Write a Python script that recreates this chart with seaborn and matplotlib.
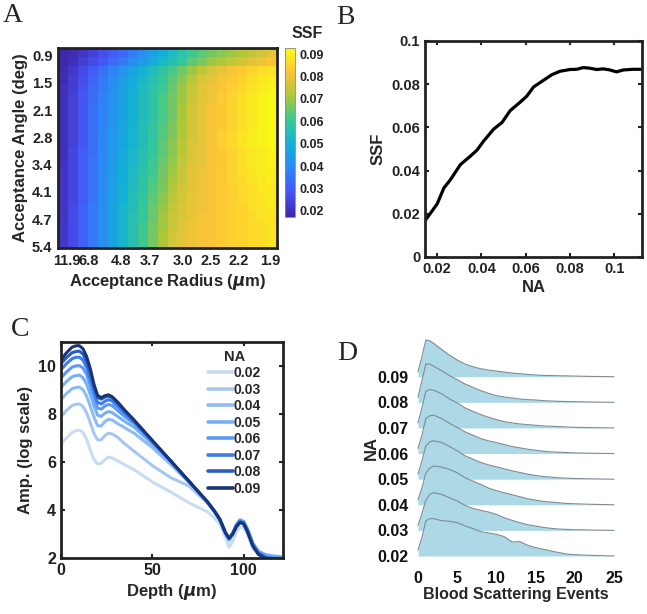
import numpy as np
import pandas as pd
import matplotlib
matplotlib.use("Agg")
import matplotlib.pyplot as plt
from matplotlib.colors import LinearSegmentedColormap
import seaborn as sns

# ---------------- data ----------------
# A: SSF map, rows = acceptance angle (top -> bottom), cols = acceptance radius (left -> right), x1000
ssf_grid_x1000 = [
    [17, 19, 21, 24, 27, 30, 33, 37, 41, 45, 49, 53, 57, 61, 64, 66, 68, 70, 72, 74, 76, 79],
    [18, 20, 23, 26, 29, 33, 36, 40, 44, 48, 52, 56, 60, 64, 67, 70, 72, 74, 76, 78, 80, 82],
    [19, 22, 26, 30, 34, 38, 42, 46, 50, 54, 58, 62, 66, 70, 74, 77, 79, 81, 83, 85, 87, 88],
    [19, 23, 27, 32, 36, 40, 44, 48, 52, 56, 60, 64, 68, 73, 77, 79, 81, 83, 85, 87, 89, 90],
    [20, 23, 28, 33, 37, 41, 45, 49, 53, 57, 61, 65, 70, 75, 78, 80, 82, 84, 86, 88, 90, 91],
    [20, 24, 29, 33, 38, 42, 46, 50, 54, 58, 62, 66, 70, 75, 78, 80, 83, 85, 87, 89, 91, 92],
    [20, 24, 29, 34, 38, 42, 46, 50, 54, 58, 62, 66, 71, 76, 79, 81, 83, 85, 87, 89, 91, 92],
    [20, 24, 29, 34, 38, 42, 46, 50, 54, 58, 62, 66, 71, 76, 79, 81, 83, 85, 87, 89, 91, 92],
    [20, 24, 29, 34, 38, 43, 47, 51, 55, 59, 63, 67, 72, 76, 79, 81, 83, 85, 87, 89, 91, 92],
    [20, 24, 29, 34, 39, 43, 47, 51, 55, 59, 63, 67, 72, 76, 79, 81, 84, 86, 88, 90, 91, 92],
    [20, 24, 29, 34, 39, 43, 47, 51, 55, 60, 64, 68, 73, 77, 79, 81, 84, 86, 88, 90, 91, 92],
    [20, 25, 30, 34, 39, 43, 48, 52, 56, 60, 64, 68, 73, 77, 79, 81, 83, 85, 87, 89, 90, 91],
    [20, 25, 30, 35, 39, 44, 48, 52, 56, 61, 65, 69, 74, 77, 79, 81, 83, 85, 87, 89, 90, 91],
    [21, 25, 30, 35, 40, 44, 49, 53, 57, 61, 66, 70, 75, 78, 80, 82, 83, 85, 87, 88, 90, 90],
    [21, 25, 30, 35, 40, 45, 49, 53, 58, 62, 66, 71, 75, 78, 80, 82, 83, 85, 86, 88, 89, 90],
    [21, 25, 30, 35, 40, 45, 50, 54, 58, 63, 67, 72, 76, 78, 80, 82, 83, 84, 86, 87, 89, 89],
    [21, 25, 30, 35, 40, 45, 50, 55, 59, 64, 68, 73, 76, 79, 80, 82, 83, 84, 86, 87, 88, 89],
    [21, 26, 31, 36, 41, 46, 51, 55, 60, 65, 69, 74, 77, 79, 80, 82, 83, 84, 85, 87, 88, 89],
    [21, 26, 31, 36, 41, 46, 51, 56, 60, 65, 70, 75, 77, 79, 81, 82, 83, 84, 85, 86, 88, 88],
    [22, 26, 31, 36, 41, 46, 51, 56, 61, 66, 70, 75, 78, 80, 81, 82, 83, 84, 85, 86, 87, 88],
    [22, 26, 31, 36, 41, 46, 51, 56, 61, 66, 71, 76, 78, 80, 81, 82, 83, 84, 85, 86, 87, 88],
    [22, 26, 31, 36, 41, 46, 51, 56, 61, 66, 71, 76, 78, 80, 81, 82, 83, 84, 85, 86, 87, 88],
]
radius_labels = ["11.9", "6.8", "4.8", "3.7", "3.0", "2.5", "2.2", "1.9"]
angle_labels = ["0.9", "1.5", "2.1", "2.8", "3.4", "4.1", "4.7", "5.4"]

# B: SSF vs NA
na_curve = [0.0147, 0.017, 0.02, 0.023, 0.026, 0.0305, 0.035, 0.038, 0.041, 0.0455, 0.0493,
            0.053, 0.0575, 0.0605, 0.0635, 0.068, 0.0718, 0.0755, 0.08, 0.083, 0.086, 0.089,
            0.092, 0.095, 0.098, 0.101, 0.104, 0.1086, 0.1123]
ssf_curve = [0.0171, 0.0203, 0.0246, 0.0319, 0.0358, 0.0428, 0.0467, 0.0495, 0.0537, 0.0592,
             0.0623, 0.0678, 0.0717, 0.0745, 0.0787, 0.0818, 0.0844, 0.086, 0.0868, 0.0869,
             0.0877, 0.0874, 0.0868, 0.0871, 0.0866, 0.0857, 0.0866, 0.0869, 0.0869]

# C: amplitude vs depth for each NA
na_labels = ["0.02", "0.03", "0.04", "0.05", "0.06", "0.07", "0.08", "0.09"]
depth = [0, 3, 6, 8, 10, 12, 14, 16, 18, 20, 22, 24, 26, 28, 31, 35, 40, 50, 60, 70,
         80, 84, 87, 90, 92, 94, 96, 98, 100, 102, 105, 108, 112, 116, 121]
amp_002 = [6.76, 7.00, 7.22, 7.30, 7.33, 7.24, 6.95, 6.50, 6.10, 5.92, 5.95, 6.10, 6.20, 6.17, 6.05, 5.88, 5.68, 5.17, 4.75, 4.30,
           3.93, 3.66, 3.40, 2.85, 2.45, 2.70, 3.10, 3.30, 3.25, 3.00, 2.36, 2.22, 2.15, 2.10, 2.06]
amp_003 = [7.90, 8.15, 8.35, 8.40, 8.42, 8.32, 8.05, 7.65, 7.20, 6.92, 6.92, 7.10, 7.20, 7.17, 7.03, 6.75, 6.45, 5.85, 5.35, 5.00,
           4.30, 3.90, 3.55, 3.00, 2.72, 2.98, 3.30, 3.48, 3.40, 3.10, 2.50, 2.24, 2.12, 2.08, 2.05]
amp_004 = [8.60, 8.85, 9.05, 9.10, 9.12, 9.02, 8.75, 8.33, 7.88, 7.52, 7.50, 7.68, 7.78, 7.75, 7.60, 7.42, 7.20, 6.60, 5.90, 5.15,
           4.35, 3.95, 3.60, 3.05, 2.78, 3.03, 3.38, 3.58, 3.50, 3.20, 2.60, 2.28, 2.14, 2.08, 2.05]
amp_005 = [9.10, 9.35, 9.55, 9.60, 9.62, 9.52, 9.25, 8.82, 8.35, 7.95, 7.90, 8.03, 8.10, 8.06, 7.90, 7.68, 7.45, 6.75, 6.00, 5.20,
           4.35, 3.95, 3.60, 3.05, 2.80, 3.05, 3.40, 3.60, 3.52, 3.22, 2.62, 2.28, 2.12, 2.06, 2.03]
amp_006 = [9.50, 9.75, 9.95, 10.00, 10.02, 9.92, 9.65, 9.20, 8.70, 8.25, 8.20, 8.33, 8.40, 8.35, 8.15, 7.88, 7.60, 6.82, 6.03, 5.20,
           4.35, 3.95, 3.60, 3.05, 2.80, 3.03, 3.38, 3.56, 3.50, 3.20, 2.60, 2.25, 2.08, 2.02, 2.00]
amp_007 = [9.85, 10.10, 10.30, 10.36, 10.37, 10.25, 9.95, 9.50, 8.95, 8.48, 8.42, 8.53, 8.60, 8.54, 8.33, 8.02, 7.68, 6.86, 6.05, 5.20,
           4.35, 3.95, 3.60, 3.05, 2.80, 3.02, 3.35, 3.52, 3.46, 3.15, 2.55, 2.20, 2.03, 1.98, 1.96]
amp_008 = [10.10, 10.35, 10.55, 10.60, 10.62, 10.50, 10.20, 9.72, 9.15, 8.70, 8.62, 8.70, 8.75, 8.68, 8.46, 8.12, 7.72, 6.88, 6.05, 5.20,
           4.35, 3.95, 3.60, 3.05, 2.82, 3.02, 3.33, 3.50, 3.44, 3.12, 2.52, 2.18, 2.00, 1.96, 1.95]
amp_009 = [10.25, 10.55, 10.78, 10.84, 10.85, 10.72, 10.40, 9.90, 9.25, 8.78, 8.68, 8.76, 8.80, 8.72, 8.50, 8.15, 7.75, 6.90, 6.05, 5.20,
           4.35, 3.95, 3.60, 3.05, 2.82, 3.00, 3.30, 3.48, 3.42, 3.10, 2.50, 2.15, 1.98, 1.95, 1.95]
amp_series = [amp_002, amp_003, amp_004, amp_005, amp_006, amp_007, amp_008, amp_009]
line_colors = ["#c8dcf2", "#a6c8f0", "#8cbcf5", "#78b0f8", "#5a9af5", "#3c7cf0", "#2a5cc8", "#1a3575"]

# D: distribution of blood scattering events per NA (relative density)
events = [0, 0.5, 1, 1.5, 2, 3, 4, 5, 6, 7, 8, 9, 10, 11, 12, 13, 14, 15, 16, 17, 18, 19, 20, 22, 25]
dens_002 = [0.036, 0.110, 0.210, 0.224, 0.224, 0.212, 0.208, 0.200, 0.180, 0.164, 0.146, 0.138, 0.130, 0.116, 0.084, 0.086, 0.064, 0.050, 0.040, 0.030, 0.020, 0.012, 0.008, 0.004, 0.000]
dens_003 = [0.030, 0.100, 0.180, 0.216, 0.226, 0.216, 0.196, 0.176, 0.150, 0.132, 0.120, 0.110, 0.096, 0.076, 0.060, 0.046, 0.034, 0.026, 0.018, 0.012, 0.008, 0.006, 0.004, 0.002, 0.000]
dens_004 = [0.030, 0.100, 0.190, 0.220, 0.232, 0.226, 0.212, 0.192, 0.162, 0.142, 0.122, 0.100, 0.084, 0.072, 0.060, 0.048, 0.036, 0.028, 0.020, 0.016, 0.012, 0.008, 0.006, 0.003, 0.000]
dens_005 = [0.030, 0.110, 0.200, 0.224, 0.230, 0.220, 0.196, 0.170, 0.140, 0.120, 0.100, 0.086, 0.074, 0.062, 0.050, 0.040, 0.030, 0.022, 0.016, 0.012, 0.008, 0.006, 0.004, 0.002, 0.000]
dens_006 = [0.030, 0.110, 0.210, 0.226, 0.230, 0.210, 0.182, 0.156, 0.130, 0.110, 0.090, 0.076, 0.066, 0.054, 0.042, 0.034, 0.026, 0.020, 0.014, 0.010, 0.008, 0.006, 0.004, 0.002, 0.000]
dens_007 = [0.030, 0.120, 0.220, 0.230, 0.226, 0.206, 0.174, 0.150, 0.120, 0.100, 0.080, 0.064, 0.050, 0.038, 0.030, 0.024, 0.020, 0.016, 0.012, 0.010, 0.008, 0.006, 0.004, 0.002, 0.000]
dens_008 = [0.030, 0.130, 0.230, 0.230, 0.216, 0.190, 0.160, 0.136, 0.110, 0.090, 0.070, 0.054, 0.040, 0.032, 0.026, 0.020, 0.016, 0.014, 0.010, 0.008, 0.006, 0.005, 0.004, 0.002, 0.000]
dens_009 = [0.030, 0.120, 0.220, 0.216, 0.200, 0.164, 0.130, 0.100, 0.076, 0.060, 0.048, 0.040, 0.034, 0.028, 0.022, 0.018, 0.014, 0.010, 0.008, 0.007, 0.006, 0.005, 0.004, 0.002, 0.000]
dens_series = [dens_002, dens_003, dens_004, dens_005, dens_006, dens_007, dens_008, dens_009]

# ---------------- style ----------------
sns.set_theme(style="ticks")
plt.rcParams["font.family"] = ["Liberation Sans", "DejaVu Sans"]
plt.rcParams["font.weight"] = "bold"
plt.rcParams["axes.labelweight"] = "bold"
plt.rcParams["axes.edgecolor"] = "#222222"
plt.rcParams["axes.linewidth"] = 2.0

W, H = 647, 614
fig = plt.figure(figsize=(W / 100, H / 100), dpi=100)

def px_axes(l, t, r, b):
    return fig.add_axes([l / W, 1 - b / H, (r - l) / W, (b - t) / H])

def letter(x, y, s):
    fig.text(x / W, 1 - y / H, s, family=["Liberation Serif", "DejaVu Serif"],
             weight="normal", fontsize=20, ha="center", va="center")

# parula-like colormap (MATLAB default)
parula = LinearSegmentedColormap.from_list("parula", [
    (0.2422, 0.1504, 0.6603), (0.2810, 0.3228, 0.9579), (0.1786, 0.5289, 0.9682),
    (0.0689, 0.6948, 0.8394), (0.2161, 0.7843, 0.5923), (0.6720, 0.7793, 0.2227),
    (0.9970, 0.7659, 0.2199), (0.9769, 0.9839, 0.0805)])

# ---------------- A ----------------
ax_a = px_axes(58, 48, 277, 248)
cax = px_axes(285, 48, 295, 217)
grid = pd.DataFrame(np.array(ssf_grid_x1000) / 1000.0)
sns.heatmap(grid, ax=ax_a, cmap=parula, vmin=0.0173, vmax=0.0927, cbar_ax=cax,
            cbar_kws={"ticks": [0.02, 0.03, 0.04, 0.05, 0.06, 0.07, 0.08, 0.09], "format": "%.2f"})
for sp in ax_a.spines.values():
    sp.set_visible(True)
    sp.set_linewidth(2.0)
    sp.set_color("#222222")
ax_a.set_xticks([0.9, 3.1, 6.3, 9.2, 12.6, 15.3, 18.2, 21.3])
ax_a.set_xticklabels(radius_labels, rotation=0)
ax_a.set_yticks([1, 4, 7, 10, 13, 16, 19, 22])
ax_a.set_yticklabels(angle_labels, rotation=0)
ax_a.tick_params(direction="in", length=3, width=1.5, top=True, right=True,
                 bottom=True, left=True, labelsize=10.5, pad=4, colors="#222222")
ax_a.set_xlabel("Acceptance Radius ($\\mu$m)", fontsize=12, labelpad=3)
ax_a.set_ylabel("Acceptance Angle (deg)", fontsize=12, labelpad=3)
cbar = ax_a.collections[0].colorbar
cbar.outline.set_linewidth(0.6)
cbar.outline.set_edgecolor("#888888")
cax.tick_params(direction="in", length=2, width=0.6, labelsize=9, pad=3, colors="#222222")
fig.text(307 / W, 1 - 33 / H, "SSF", fontsize=11.5, weight="bold", ha="center", va="center")
letter(13, 16, "A")

# ---------------- B ----------------
ax_b = px_axes(425, 41, 642, 257)
sns.lineplot(x=na_curve, y=ssf_curve, ax=ax_b, color="black", linewidth=2.3)
ax_b.set_xlim(0.0145, 0.1125)
ax_b.set_ylim(0, 0.1)
ax_b.set_xticks([0.02, 0.04, 0.06, 0.08, 0.1])
ax_b.set_xticklabels(["0.02", "0.04", "0.06", "0.08", "0.1"])
ax_b.set_yticks([0, 0.02, 0.04, 0.06, 0.08, 0.1])
ax_b.set_yticklabels(["0", "0.02", "0.04", "0.06", "0.08", "0.1"])
ax_b.tick_params(direction="in", length=3, width=1.5, top=True, right=True,
                 labelsize=10.5, colors="#222222")
ax_b.set_xlabel("NA", fontsize=12, labelpad=3)
ax_b.set_ylabel("SSF", fontsize=12, labelpad=4)
letter(345, 18, "B")

# ---------------- C ----------------
ax_c = px_axes(61, 342, 283, 558)
for lab, amp, col in zip(na_labels, amp_series, line_colors):
    sns.lineplot(x=depth, y=amp, ax=ax_c, color=col, linewidth=2.2, label=lab)
ax_c.set_xlim(0, 121.5)
ax_c.set_ylim(2, 11)
ax_c.set_xticks([0, 50, 100])
ax_c.set_yticks([2, 4, 6, 8, 10])
ax_c.tick_params(direction="in", length=3, width=1.5, top=True, right=True,
                 labelsize=11.5, colors="#222222")
ax_c.set_xlabel("Depth ($\\mu$m)", fontsize=12, labelpad=3)
ax_c.set_ylabel("Amp. (log scale)", fontsize=12, labelpad=4)
leg = ax_c.legend(title="NA", frameon=False, loc="upper left", bbox_to_anchor=(0.66, 0.965),
                  borderaxespad=0, borderpad=0, fontsize=10, title_fontsize=10.5,
                  handlelength=1.8, handletextpad=0.1, labelspacing=0.18)
leg.get_title().set_fontweight("bold")
for h in leg.get_lines():
    h.set_linewidth(2.6)
letter(20, 330, "C")

# ---------------- D ----------------
ax_d = px_axes(410, 335, 622, 560)
scale = 6.52
n = len(na_labels)
for i in range(n - 1, -1, -1):
    top = np.array(dens_series[i]) * scale + i
    z = 2 * (n - i)
    ax_d.fill_between(events, i, top, color="#add8e6", linewidth=0, zorder=z)
    sns.lineplot(x=events, y=top, ax=ax_d, color="#7d8b96", linewidth=0.8, zorder=z + 1)
ax_d.set_xlim(-1.02, 26.02)
ax_d.set_ylim(-0.156, 8.63)
ax_d.set_xticks([0, 5, 10, 15, 20, 25])
ax_d.set_yticks(range(n))
ax_d.set_yticklabels(na_labels)
ax_d.tick_params(length=0, labelsize=11.5, colors="#111111")
ax_d.tick_params(axis="y", pad=1)
ax_d.tick_params(axis="x", pad=8)
sns.despine(ax=ax_d, left=True, bottom=True)
ax_d.set_xlabel("Blood Scattering Events", fontsize=11.5, labelpad=1)
ax_d.set_ylabel("NA", fontsize=12, labelpad=-1)
letter(347, 353, "D")

fig.savefig("out.png", dpi=100)
